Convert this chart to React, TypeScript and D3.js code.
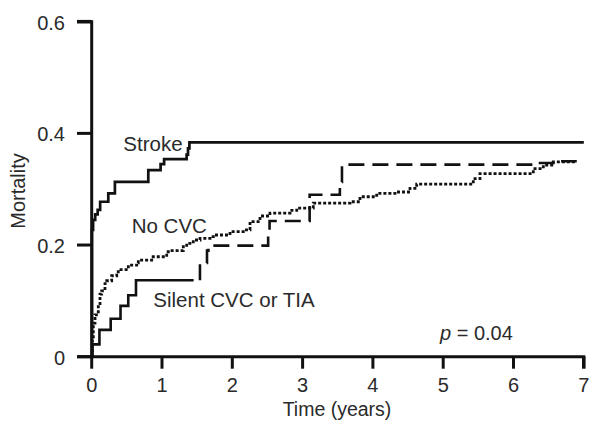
import React from "react";
import * as d3 from "d3";

const xTicks = [0, 1, 2, 3, 4, 5, 6, 7];
const yTicks = [0, 0.2, 0.4, 0.6];
const yTickLabels = ["0", "0.2", "0.4", "0.6"];

const strokeT = [0, 0.004, 0.02, 0.05, 0.085, 0.12, 0.236, 0.33, 0.805, 0.98, 1.03, 1.35, 1.37, 1.39, 7];
const strokeV = [0, 0.227, 0.245, 0.255, 0.263, 0.2775, 0.2925, 0.313, 0.334, 0.345, 0.354, 0.362, 0.373, 0.384, 0.384];

const noCvcT = [0, 0.009, 0.023, 0.047, 0.094, 0.118, 0.142, 0.189, 0.213, 0.284, 0.356, 0.378, 0.521, 0.64, 0.663, 0.853, 1.067, 1.114, 1.303, 1.351, 1.445, 1.541, 1.683, 1.73, 1.967, 2.156, 2.252, 2.394, 2.536, 2.821, 2.916, 3.152, 3.674, 3.816, 4.054, 4.339, 4.528, 4.623, 5.428, 5.523, 6.282, 6.424, 6.566, 6.899];
const noCvcV = [0, 0.03, 0.06, 0.075, 0.095, 0.112, 0.118, 0.131, 0.136, 0.145, 0.152, 0.156, 0.164, 0.168, 0.173, 0.179, 0.188, 0.19, 0.197, 0.203, 0.209, 0.212, 0.215, 0.218, 0.224, 0.227, 0.242, 0.252, 0.257, 0.262, 0.266, 0.275, 0.2775, 0.2865, 0.2925, 0.295, 0.3015, 0.309, 0.319, 0.328, 0.337, 0.343, 0.349, 0.349];

// Silent CVC or TIA: early part drawn solid, later part dashed (as in the source figure)
const silentEarlyT = [0, 0.01, 0.11, 0.27, 0.41, 0.52, 0.63, 1.45];
const silentEarlyV = [0, 0.022, 0.048, 0.068, 0.091, 0.11, 0.137, 0.137];
const silentLateT = [1.54, 1.54, 1.64, 1.66, 2.51, 2.53, 3.1, 3.53, 3.56, 6.24, 6.3, 6.6, 6.9];
const silentLateV = [0.137, 0.168, 0.19, 0.199, 0.221, 0.243, 0.29, 0.313, 0.344, 0.344, 0.347, 0.35, 0.35];

const W = 589;
const H = 423;
const FONT = "'Liberation Sans', Arial, sans-serif";
const TEXT = "#2a2a2a";

export default function App() {
  const x = d3.scaleLinear().domain([0, 7]).range([91.7, 583.8]);
  const y = d3.scaleLinear().domain([0, 0.6]).range([356.7, 21.7]);

  const line = d3
    .line<[number, number]>()
    .x((d) => x(d[0]))
    .y((d) => y(d[1]))
    .curve(d3.curveStepAfter);

  const mk = (t: number[], v: number[]) => line(t.map((ti, i) => [ti, v[i]] as [number, number])) || "";

  return (
    <svg width={W} height={H} style={{ position: "absolute", left: 0, top: 0, background: "#fff" }}>
      <rect x={0} y={0} width={W} height={H} fill="#fff" />
      {/* curves */}
      <path d={mk(noCvcT, noCvcV)} fill="none" stroke="#111" strokeWidth={2.8} strokeDasharray="3 2" />
      <path d={mk(silentEarlyT, silentEarlyV)} fill="none" stroke="#111" strokeWidth={2.6} />
      <path d={mk(silentLateT, silentLateV)} fill="none" stroke="#111" strokeWidth={2.6} strokeDasharray="16 8" />
      <path d={mk(strokeT, strokeV)} fill="none" stroke="#111" strokeWidth={2.7} />

      {/* axes */}
      <line x1={x(0)} x2={x(0)} y1={y(0.6) - 1.5} y2={y(0) + 1.5} stroke="#111" strokeWidth={3} />
      <line x1={77} x2={x(7) + 1.5} y1={y(0)} y2={y(0)} stroke="#111" strokeWidth={3} />
      {yTicks.map((t, i) => (
        <g key={"y" + i}>
          <line x1={77} x2={x(0)} y1={y(t)} y2={y(t)} stroke="#111" strokeWidth={i === 3 ? 3.6 : 3} />
          <text x={65} y={y(t) + 8} textAnchor="end" fontFamily={FONT} fontSize={20} fill={TEXT}>
            {yTickLabels[i]}
          </text>
        </g>
      ))}
      {xTicks.map((t, i) => (
        <g key={"x" + i}>
          <line x1={x(t)} x2={x(t)} y1={y(0)} y2={y(0) + 12} stroke="#111" strokeWidth={i === 7 ? 3.6 : 3} />
          <text x={x(t)} y={391.5} textAnchor="middle" fontFamily={FONT} fontSize={20} fill={TEXT}>
            {String(t)}
          </text>
        </g>
      ))}

      <text x={337} y={416} textAnchor="middle" fontFamily={FONT} fontSize={19.5} fill={TEXT}>
        Time (years)
      </text>
      <text
        transform="translate(25,191) rotate(-90)"
        textAnchor="middle"
        fontFamily={FONT}
        fontSize={20}
        fill={TEXT}
      >
        Mortality
      </text>

      <text x={123.3} y={150.7} fontFamily={FONT} fontSize={20.5} fill={TEXT}>Stroke</text>
      <text x={131.7} y={233.3} fontFamily={FONT} fontSize={20.5} fill={TEXT}>No CVC</text>
      <text x={153.3} y={306.7} fontFamily={FONT} fontSize={20.5} fill={TEXT}>Silent CVC or TIA</text>
      <text x={440} y={340} fontFamily={FONT} fontSize={20} fill={TEXT}>
        <tspan fontStyle="italic">p</tspan> = 0.04
      </text>
    </svg>
  );
}
